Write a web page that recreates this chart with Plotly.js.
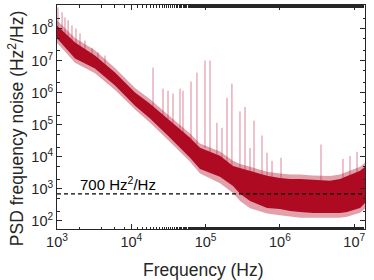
<!DOCTYPE html>
<html><head><meta charset="utf-8">
<script src="https://cdn.plot.ly/plotly-3.0.1.min.js"></script>
<style>html,body{margin:0;padding:0;background:#fff}#c{width:374px;height:280px}</style>
</head><body><div id="c"></div>
<script>
// Band envelopes (Hz, Hz^2/Hz)
const bandFreq  = [1000,1750,3240,6040,11220,17870,33200,61700,84100,114600,156000,233800,290500,396000,670000,1.0e6,1.37e6,1.87e6,2.79e6,4.72e6,6.44e6,8.0e6,1.2e7,1.4e7];
const coreUpper = [1.24e8,3.65e7,1.43e7,4.2e6,1.0e6,4.5e5,1.33e5,3.9e4,1.9e4,1.43e4,1.07e4,5.2e3,4.5e3,3.65e3,2.55e3,2.2e3,2.05e3,2.05e3,1.9e3,1.78e3,2.05e3,2.55e3,3.65e3,4.9e3];
const coreLower = [4.9e7,1.15e7,5.6e6,1.66e6,3.9e5,1.55e5,3.9e4,9.3e3,4.2e3,3.16e3,2.37e3,1.24e3,700,420,255,237,205,190,178,178,178,190,255,365];
const outerUpper= [1.8e8,5.0e7,2.1e7,5.8e6,1.4e6,6.2e5,1.8e5,5.3e4,2.6e4,1.95e4,1.45e4,7.5e3,6.0e3,4.9e3,3.4e3,3.0e3,2.8e3,2.8e3,2.6e3,2.5e3,2.8e3,3.4e3,4.9e3,6.6e3];
const outerLower= [3.6e7,8.5e6,4.0e6,1.2e6,3.0e5,1.15e5,2.9e4,7e3,3.0e3,2.1e3,1.5e3,750,420,250,170,150,135,125,125,125,125,135,180,240];
// Spurs / spikes
const spikeFreq = [1030,1170,1280,1410,1590,1800,2040,2380,2960,3560,4430,19600,26700,31200,36400,45200,49600,63600,76500,98100,114600,142000,166000,194000,226000,290000,339000,396000,448000,574000,670000,783000,1.035e6,3.57e6,7.06e6,8.77e6,1.09e7];
const spikePeak = [4.5e8,3.2e8,2.2e8,1.8e8,1.24e8,1e8,7e7,4.2e7,2.5e7,1.8e7,1.43e7,6.0e6,1.33e6,1.15e6,9.3e5,1.33e6,1.15e6,2.2e6,4.2e6,1e7,1e7,1.15e5,8e4,6.9e5,1.9e6,2.6e5,3.6e5,1.9e4,1.33e5,4.6e4,1.33e4,7.5e3,9.3e3,2.4e4,8.6e3,1.07e4,1.43e4];
const spikeBase = [1.2e8,8e7,6e7,5e7,4e7,3e7,2.5e7,2e7,1.4e7,1e7,7e6,3.5e5,2e5,1.5e5,1.1e5,7e4,5.5e4,3.5e4,2.5e4,1.9e4,1.4e4,1.2e4,9e3,7e3,5.5e3,4.5e3,4e3,3.6e3,3.3e3,2.8e3,2.5e3,2.4e3,2.2e3,1.8e3,2.2e3,2.5e3,3.2e3];
const dashLevel = 700;
const xTickVals = [1e3,1e4,1e5,1e6,1e7];
const yTickVals = [1e2,1e3,1e4,1e5,1e6,1e7,1e8];
const xRangeLog = [3, 7.145];
const yRangeLog = [1.75, 8.73];

const powText = v => '10<sup>'+Math.round(Math.log10(v))+'</sup>';
const sx=[], sy=[];
for (let i=0;i<spikeFreq.length;i++){ sx.push(spikeFreq[i],spikeFreq[i],null); sy.push(spikeBase[i],spikePeak[i],null); }

const red='#AE0A22';
const traces = [
  {x:sx, y:sy, mode:'lines', line:{color:'rgba(195,35,65,0.55)',width:1}, hoverinfo:'skip'},
  {x:bandFreq, y:outerUpper, mode:'lines', line:{width:0}, hoverinfo:'skip'},
  {x:bandFreq, y:outerLower, mode:'lines', line:{width:0}, fill:'tonexty', fillcolor:'rgba(180,20,45,0.4)', hoverinfo:'skip'},
  {x:bandFreq, y:coreUpper, mode:'lines', line:{width:0}, hoverinfo:'skip'},
  {x:bandFreq, y:coreLower, mode:'lines', line:{width:0}, fill:'tonexty', fillcolor:red, hoverinfo:'skip'},
  {x:[Math.pow(10,xRangeLog[0]),Math.pow(10,xRangeLog[1])], y:[dashLevel,dashLevel], mode:'lines', line:{color:'#000',width:1.3,dash:'4px,3px'}, hoverinfo:'skip'}
];
const font={family:'"Liberation Sans", Arial, sans-serif', color:'#262626'};
const axisCommon={type:'log', showgrid:false, zeroline:false, showline:true, linecolor:'#262626', linewidth:1,
  mirror:'allticks', ticks:'inside', ticklen:5, tickcolor:'#262626',
  tickfont:{...font,size:14.5}, minor:{ticks:'inside', ticklen:2.5, tickcolor:'#262626'}};
const layout={
  width:374, height:280, margin:{l:57,r:9,t:5,b:51}, showlegend:false,
  paper_bgcolor:'#fff', plot_bgcolor:'#fff', font:font,
  xaxis:{...axisCommon, range:xRangeLog, tickmode:'array', tickvals:xTickVals, ticktext:xTickVals.map(powText)},
  yaxis:{...axisCommon, range:yRangeLog, tickmode:'array', tickvals:yTickVals, ticktext:yTickVals.map(powText)},
  annotations:[
    {xref:'paper', yref:'y', x:0.068, y:Math.log10(dashLevel), xanchor:'left', yanchor:'bottom', yshift:-1,
     text:dashLevel+' Hz<sup>2</sup>/Hz', showarrow:false, font:{...font,size:15,color:'#000'}},
    {xref:'paper', yref:'paper', x:0.477, y:-0.183, xanchor:'center', yanchor:'middle', text:'Frequency (Hz)', showarrow:false, font:{...font,size:17.5}},
    {xref:'paper', yref:'paper', x:-0.133, y:0.446, xanchor:'center', yanchor:'middle', textangle:-90, text:'PSD frequency noise (Hz<sup>2</sup>/Hz)', showarrow:false, font:{...font,size:17.5}}
  ]
};
Plotly.newPlot('c', traces, layout, {staticPlot:true, displayModeBar:false});
</script></body></html>
